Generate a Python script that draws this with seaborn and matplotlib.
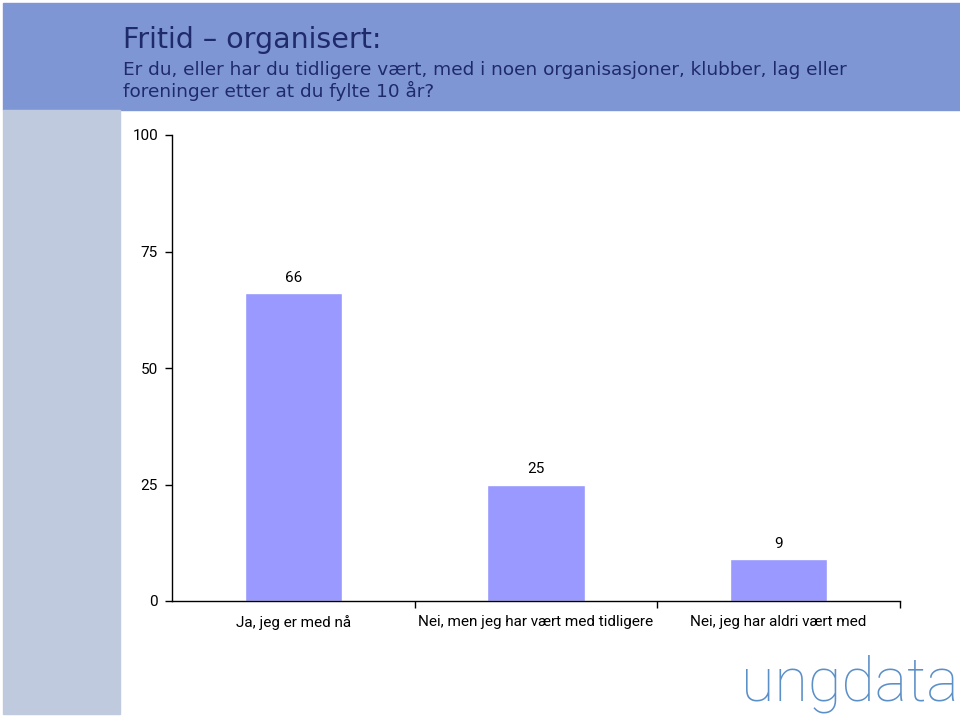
import numpy as np
import pandas as pd
import matplotlib.pyplot as plt
import seaborn as sns
from matplotlib.patches import Rectangle

# data
categories = ["Ja, jeg er med nå", "Nei, men jeg har vært med tidligere", "Nei, jeg har aldri vært med"]
values = [66, 25, 9]
yticks = [0, 25, 50, 75, 100]

sns.set_style("white")
plt.rcParams['font.family'] = ['DejaVu Sans']

fig = plt.figure(figsize=(9.6, 7.16), dpi=100)
W, H = 960, 716

# header band and left side bar
fig.patches.append(Rectangle((3 / W, 1 - 110 / H), 1 - 3 / W, 107 / H, transform=fig.transFigure,
                             color="#7f96d4", zorder=0))
fig.patches.append(Rectangle((3 / W, 2 / H), 117 / W, (714 - 110) / H, transform=fig.transFigure,
                             color="#c0cadf", zorder=0))

fig.text(123 / W, 1 - 40 / H, "Fritid – organisert:", fontsize=20.5, color="#1f2a6b", va="center", ha="left")
fig.text(123 / W, 1 - 70 / H, "Er du, eller har du tidligere vært, med i noen organisasjoner, klubber, lag eller",
         fontsize=13.3, color="#1f2a6b", va="center", ha="left")
fig.text(123 / W, 1 - 91 / H, "foreninger etter at du fylte 10 år?",
         fontsize=13.3, color="#1f2a6b", va="center", ha="left")

ax = fig.add_axes([172 / W, 1 - 601 / H, (900 - 172) / W, (601 - 135) / H])
df = pd.DataFrame({"kat": categories, "verdi": values})
sns.barplot(data=df, x="kat", y="verdi", color="#9999ff", saturation=1, width=0.4, ax=ax)

for i, v in enumerate(values):
    ax.text(i, v + 1.8, str(v), ha="center", va="bottom", fontsize=11, color="black",
            family=["Roboto", "DejaVu Sans"])

ax.set_xlim(-0.5, 2.5)
ax.set_ylim(0, 100)
ax.set_yticks(yticks)
ax.set_xticks([0, 1, 2])
ax.set_xticklabels(categories, fontsize=11, color="black", family=["Roboto", "DejaVu Sans"])
for lab in ax.get_yticklabels():
    lab.set_family(["Roboto", "DejaVu Sans"])
ax.set_xticks([0.5, 1.5, 2.5], minor=True)
ax.tick_params(axis="x", which="major", length=0, pad=10)
ax.tick_params(axis="x", which="minor", length=5, width=1, color="black", direction="out", bottom=True)
ax.tick_params(axis="y", length=5, width=1, color="black", direction="out", left=True, labelsize=11,
               labelcolor="black", pad=5)
ax.set_xlabel("")
ax.set_ylabel("")
for s in ["top", "right"]:
    ax.spines[s].set_visible(False)
for s in ["left", "bottom"]:
    ax.spines[s].set_color("black")
    ax.spines[s].set_linewidth(1)

# logo text
fig.text(850 / W, 1 - 684 / H, "ungdata", fontsize=44, color="#5b8fc8", ha="center", va="center",
         family=["Roboto", "DejaVu Sans"], fontweight="light")

fig.savefig("out.png", dpi=100)
